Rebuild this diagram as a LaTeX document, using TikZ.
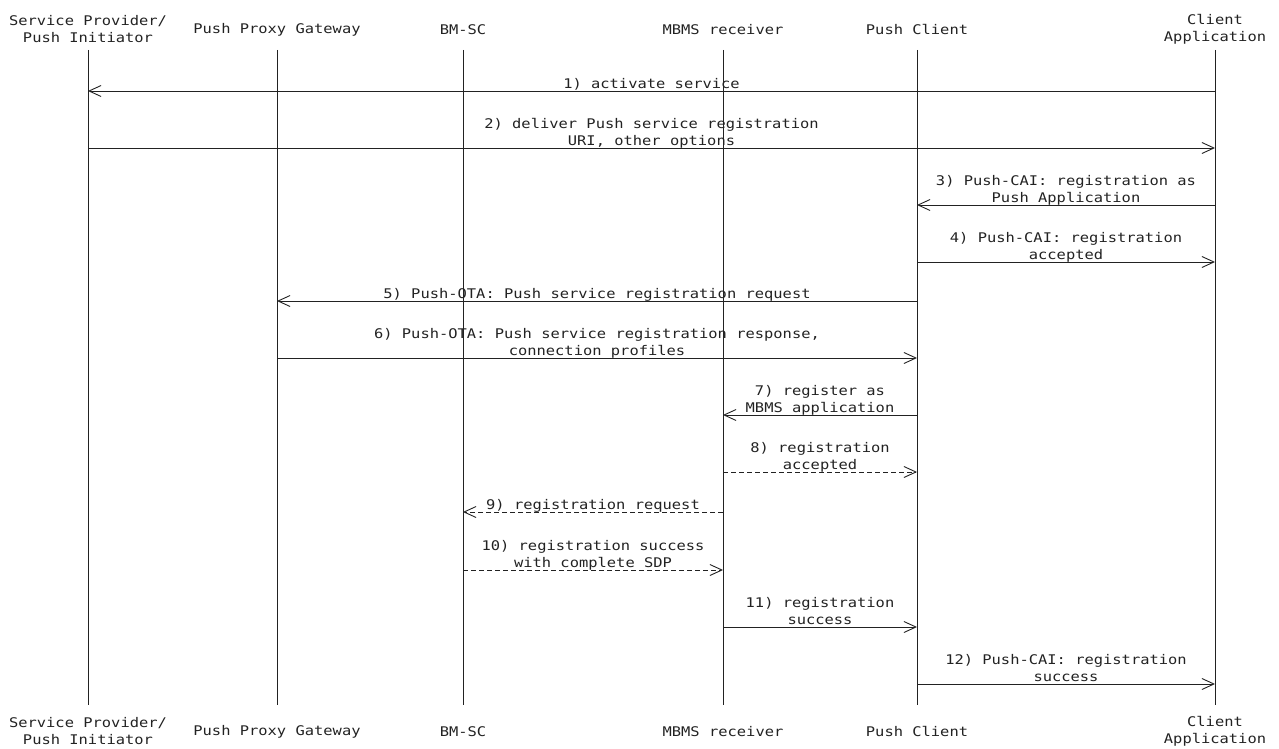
\documentclass[tikz,border=0pt]{standalone}
\usepackage{fontspec}
\usepackage{xcolor}
\usetikzlibrary{arrows.meta}
\newfontfamily\seqfont[FakeStretch=1.16]{DejaVu Sans Mono}
\definecolor{ink}{HTML}{222222}
\tikzset{
  life/.style={draw=ink, line width=0.9pt},
  msg/.style={draw=ink, line width=0.9pt, -{Straight Barb[length=12pt,width=11pt]}},
  dmsg/.style={msg, dash pattern=on 5pt off 3pt},
  head/.style={text=ink, font=\seqfont\fontsize{13.3}{17}\selectfont, align=center, inner sep=0pt},
  mlbl/.style={head, text depth=0pt, above=2pt}
}

\begin{document}
\begin{tikzpicture}[x=1pt,y=-1pt]
  \useasboundingbox (0,0) rectangle (1279,749);

  \node[head] (sp)  at (88,29.5)   {Service Provider/\\Push Initiator};
  \node[head] (ppg) at (277,29.5)  {Push Proxy Gateway};
  \node[head] (bm)  at (463,29.5)  {BM-SC};
  \node[head] (mr)  at (723,29.5)  {MBMS receiver};
  \node[head] (pc)  at (917,29.5)  {Push Client};
  \node[head] (ca)  at (1215,29.5) {Client\\Application};

  \node[head] (sp')  at (88,731.5)   {Service Provider/\\Push Initiator};
  \node[head] (ppg') at (277,731.5)  {Push Proxy Gateway};
  \node[head] (bm')  at (463,731.5)  {BM-SC};
  \node[head] (mr')  at (723,731.5)  {MBMS receiver};
  \node[head] (pc')  at (917,731.5)  {Push Client};
  \node[head] (ca')  at (1215,731.5) {Client\\Application};

  \coordinate (top) at (0,50);
  \coordinate (bot) at (0,705);
  \foreach \l in {sp,ppg,bm,mr,pc,ca}
    \draw[life] (\l |- top) -- (\l |- bot);

  \coordinate (m1) at (0,91);
  \coordinate (m2) at (0,148);
  \coordinate (m3) at (0,205);
  \coordinate (m4) at (0,262);
  \coordinate (m5) at (0,301);
  \coordinate (m6) at (0,358);
  \coordinate (m7) at (0,415);
  \coordinate (m8) at (0,472);
  \coordinate (m9) at (0,512);
  \coordinate (m10) at (0,570);
  \coordinate (m11) at (0,627);
  \coordinate (m12) at (0,684);

  \draw[msg] (ca |- m1) -- (sp |- m1) node[mlbl, midway] (l1) {1) activate service};
  \draw[msg] (sp |- m2) -- (ca |- m2) node[mlbl, midway] (l2) {2) deliver Push service registration\\URI, other options};
  \draw[msg] (ca |- m3) -- (pc |- m3) node[mlbl, midway] (l3) {3) Push-CAI: registration as\\Push Application};
  \draw[msg] (pc |- m4) -- (ca |- m4) node[mlbl, midway] (l4) {4) Push-CAI: registration\\accepted};
  \draw[msg] (pc |- m5) -- (ppg |- m5) node[mlbl, midway] (l5) {5) Push-OTA: Push service registration request};
  \draw[msg] (ppg |- m6) -- (pc |- m6) node[mlbl, midway] (l6) {6) Push-OTA: Push service registration response,\\connection profiles};
  \draw[msg] (pc |- m7) -- (mr |- m7) node[mlbl, midway] (l7) {7) register as\\MBMS application};
  \draw[dmsg] (mr |- m8) -- (pc |- m8) node[mlbl, midway] (l8) {8) registration\\accepted};
  \draw[dmsg] (mr |- m9) -- (bm |- m9) node[mlbl, midway] (l9) {9) registration request};
  \draw[dmsg] (bm |- m10) -- (mr |- m10) node[mlbl, midway] (l10) {10) registration success\\with complete SDP};
  \draw[msg] (mr |- m11) -- (pc |- m11) node[mlbl, midway] (l11) {11) registration\\success};
  \draw[msg] (pc |- m12) -- (ca |- m12) node[mlbl, midway] (l12) {12) Push-CAI: registration\\success};
\end{tikzpicture}
\end{document}
